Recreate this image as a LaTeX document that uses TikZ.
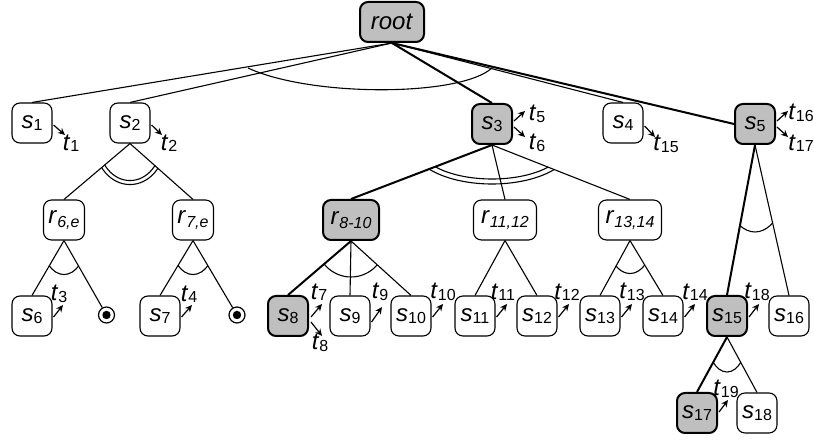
\documentclass[tikz,border=0pt]{standalone}
\usepackage{fontspec}
\setmainfont{Liberation Sans}
\usetikzlibrary{calc,arrows.meta}
\newcommand\sv[1]{\textit{s}\raisebox{-1.5pt}{\fontsize{16}{16}\selectfont #1}}
\newcommand\tv[1]{\textit{t}\raisebox{-1.5pt}{\fontsize{16}{16}\selectfont #1}}
\newcommand\rv[1]{\textit{r}\raisebox{-4pt}{\fontsize{16}{16}\selectfont\itshape #1}}
\newcommand\andarc[5]{%
  \begin{scope}
    \clip (#1) -- ($(#1)!6!(#2)$) -- ($(#1)!6!(#3)$) -- cycle;
    \draw[edge] (#1) ellipse [x radius=#4, y radius=#5];
  \end{scope}}
\begin{document}
\begin{tikzpicture}[x=1pt,y=1pt,font=\fontsize{24}{28}\selectfont,
  box/.style={draw, rounded corners=8pt, minimum width=40pt, minimum height=40pt, inner sep=1pt, line width=1.1pt, fill=white},
  sel/.style={box, fill=gray!50, line width=2pt},
  edge/.style={line width=1.1pt},
  hot/.style={line width=2pt},
  tarr/.style={line width=1.2pt, -{Stealth[length=7pt,width=6.5pt]}},
  tlab/.style={inner sep=0pt},
  odot/.style={circle, draw, line width=1.2pt, minimum size=16pt, inner sep=0pt, fill=white}]
\useasboundingbox (0,0) rectangle (814,-443);
% nodes
\node[sel, minimum width=64pt] (root) at (392,-22) {\textit{root}};
\node[box] (s1) at (32,-123) {\sv{1}};
\node[box] (s2) at (130,-123) {\sv{2}};
\node[sel] (s3) at (492,-124) {\sv{3}};
\node[box] (s4) at (623,-123) {\sv{4}};
\node[sel] (s5) at (755,-124) {\sv{5}};
\node[box, minimum width=41pt] (r6) at (64,-220) {\rv{6,e}};
\node[box, minimum width=41pt] (r7) at (193,-220) {\rv{7,e}};
\node[sel, minimum width=56pt] (r8) at (351,-220) {\rv{8-10}};
\node[box, minimum width=63pt] (r11) at (505,-220) {\rv{11,12}};
\node[box, minimum width=63pt] (r13) at (630,-220) {\rv{13,14}};
\node[box] (s6) at (32,-316) {\sv{6}};
\node[odot] (o1) at (106.5,-315) {};
\fill[black] (o1.center) circle (4.2pt);
\node[box] (s7) at (160,-316) {\sv{7}};
\node[odot] (o2) at (237,-315) {};
\fill[black] (o2.center) circle (4.2pt);
\node[sel] (s8) at (288,-316) {\sv{8}};
\node[box] (s9) at (350,-316) {\sv{9}};
\node[box] (s10) at (411,-316) {\sv{10}};
\node[box] (s11) at (475,-316) {\sv{11}};
\node[box] (s12) at (537,-316) {\sv{12}};
\node[box] (s13) at (600,-316) {\sv{13}};
\node[box] (s14) at (663,-316) {\sv{14}};
\node[sel] (s15) at (727,-316) {\sv{15}};
\node[box] (s16) at (789,-316) {\sv{16}};
\node[sel] (s17) at (697,-413) {\sv{17}};
\node[box] (s18) at (757,-413) {\sv{18}};
% edges
\draw[edge] (root.south) -- (s1.north);
\draw[edge] (root.south) -- (s2.north);
\draw[hot] (root.south) -- (s3.north);
\draw[edge] (root.south) -- (s4.north);
\draw[hot] (root.south) -- (s5.west);
\draw[edge] (s2.south) -- (r6.north);
\draw[edge] (s2.south) -- (r7.north);
\draw[hot] (s3.south) -- (r8.north);
\draw[edge] (s3.south) -- (r11.north);
\draw[edge] (s3.south) -- (r13.north);
\draw[hot] (s5.south) -- (s15.north);
\draw[edge] (s5.south) -- (s16.north);
\draw[edge] (r6.south) -- (s6.north);
\draw[edge] (r6.south) -- (o1);
\draw[edge] (r7.south) -- (s7.north);
\draw[edge] (r7.south) -- (o2);
\draw[hot] (r8.south) -- (s8.north);
\draw[edge] (r8.south) -- (s9.north);
\draw[edge] (r8.south) -- (s10.north);
\draw[edge] (r11.south) -- (s11.north);
\draw[edge] (r11.south) -- (s12.north);
\draw[edge] (r13.south) -- (s13.north);
\draw[edge] (r13.south) -- (s14.north);
\draw[hot] (s15.south) -- (s17.north);
\draw[edge] (s15.south) -- (s18.north);
% arcs
\draw[edge] (248,-68) .. controls (310,-97) and (460,-97) .. (492,-68);
\andarc{s2.south}{r6.north}{r7.north}{35pt}{41pt}
\andarc{s2.south}{r6.north}{r7.north}{31pt}{37pt}
\andarc{s3.south}{r8.north}{r13.north}{80pt}{39pt}
\andarc{s3.south}{r8.north}{r13.north}{74pt}{34pt}
\andarc{s5.south}{s15.north}{s16.north}{40pt}{87pt}
\andarc{r6.south}{s6.north}{o1}{22pt}{34pt}
\andarc{r7.south}{s7.north}{o2}{22pt}{34pt}
\andarc{r8.south}{s8.north}{s10.north}{35pt}{36pt}
\andarc{r13.south}{s13.north}{s14.north}{22pt}{33pt}
\andarc{s15.south}{s17.north}{s18.north}{20pt}{35pt}
% t arrows and labels
\coordinate (a1) at (65,-135);  \draw[tarr] ($(s1.east)+(1,-2)$) -- (a1);
\coordinate (a2) at (162,-135); \draw[tarr] ($(s2.east)+(1,-2)$) -- (a2);
\coordinate (a5) at (525,-111); \draw[tarr] ($(s3.east)+(1,3)$) -- (a5);
\coordinate (a6) at (525,-137); \draw[tarr] ($(s3.east)+(1,-3)$) -- (a6);
\coordinate (a15) at (655,-137); \draw[tarr] ($(s4.east)+(1,-3)$) -- (a15);
\coordinate (a16) at (788,-111); \draw[tarr] ($(s5.east)+(1,3)$) -- (a16);
\coordinate (a17) at (788,-137); \draw[tarr] ($(s5.east)+(1,-3)$) -- (a17);
\coordinate (a3) at (63,-305);  \draw[tarr] ($(s6.east)+(1,-1)$) -- (a3);
\coordinate (a4) at (192,-305); \draw[tarr] ($(s7.east)+(1,-1)$) -- (a4);
\coordinate (a7) at (322,-304); \draw[tarr] ($(s8.east)+(2,-1)$) -- (a7);
\coordinate (a8) at (322,-336); \draw[tarr] ($(s8.east)+(2,-6)$) -- (a8);
\coordinate (a9) at (382,-307); \draw[tarr] ($(s9.east)+(1,-6)$) -- (a9);
\coordinate (a10) at (443,-304); \draw[tarr] ($(s10.east)+(1,-1)$) -- (a10);
\coordinate (a11) at (507,-304); \draw[tarr] ($(s11.east)+(1,-1)$) -- (a11);
\coordinate (a12) at (569,-304); \draw[tarr] ($(s12.east)+(1,-1)$) -- (a12);
\coordinate (a13) at (632,-304); \draw[tarr] ($(s13.east)+(1,-1)$) -- (a13);
\coordinate (a14) at (695,-304); \draw[tarr] ($(s14.east)+(1,-1)$) -- (a14);
\coordinate (a18) at (759,-304); \draw[tarr] ($(s15.east)+(1,-1)$) -- (a18);
\coordinate (a19) at (728,-400); \draw[tarr] ($(s17.east)+(1,1)$) -- (a19);
\node[tlab] (t1) at (71,-143) {\tv{1}};
\node[tlab] (t2) at (169,-143) {\tv{2}};
\node[tlab] (t5) at (537,-114) {\tv{5}};
\node[tlab] (t6) at (537,-143) {\tv{6}};
\node[tlab] (t15) at (666,-144) {\tv{15}};
\node[tlab] (t16) at (801,-113) {\tv{16}};
\node[tlab] (t17) at (801,-143) {\tv{17}};
\node[tlab] (t3) at (59,-294) {\tv{3}};
\node[tlab] (t4) at (189,-294) {\tv{4}};
\node[tlab] (t7) at (319,-292) {\tv{7}};
\node[tlab] (t8) at (320,-343) {\tv{8}};
\node[tlab] (t9) at (380,-292) {\tv{9}};
\node[tlab] (t10) at (443,-292) {\tv{10}};
\node[tlab] (t11) at (503,-292) {\tv{11}};
\node[tlab] (t12) at (567,-292) {\tv{12}};
\node[tlab] (t13) at (632,-292) {\tv{13}};
\node[tlab] (t14) at (695,-292) {\tv{14}};
\node[tlab] (t18) at (757,-292) {\tv{18}};
\node[tlab] (t19) at (726,-389) {\tv{19}};
\end{tikzpicture}
\end{document}
